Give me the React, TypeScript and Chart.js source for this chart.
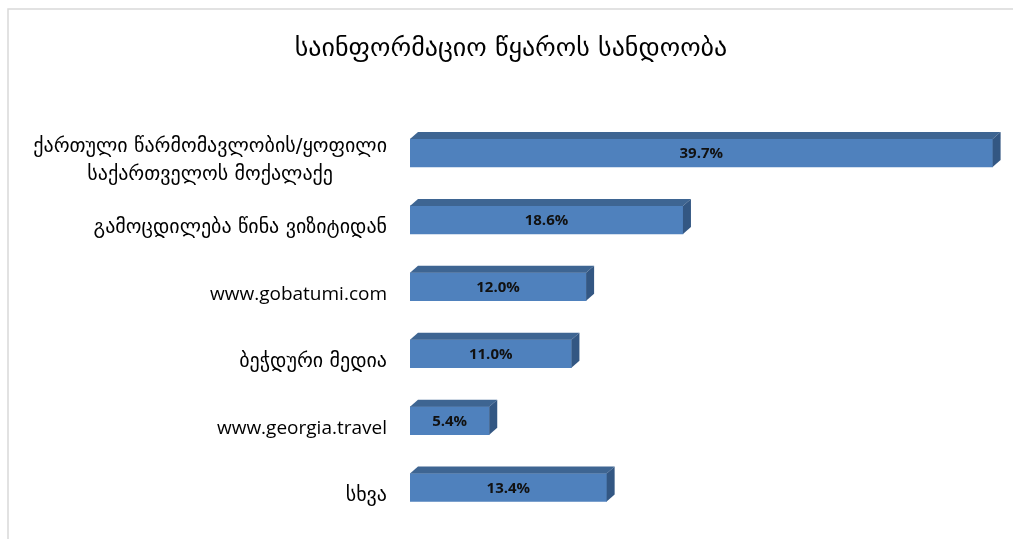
import React, { useEffect, useRef } from "react";
import { Chart, registerables } from "chart.js";

Chart.register(...registerables);

const chartTitle = "საინფორმაციო წყაროს სანდოობა";
const categories: string[][] = [
  ["ქართული წარმომავლობის/ყოფილი", "საქართველოს მოქალაქე"],
  ["გამოცდილება წინა ვიზიტიდან"],
  ["www.gobatumi.com"],
  ["ბეჭდური მედია"],
  ["www.georgia.travel"],
  ["სხვა"],
];
const values = [39.7, 18.6, 12.0, 11.0, 5.4, 13.4];
const valueLabels = ["39.7%", "18.6%", "12.0%", "11.0%", "5.4%", "13.4%"];

const FRONT = "#4F81BD";
const TOP = "#3E6592";
const SIDE = "#335783";
const LATIN_FONT = "19px 'Open Sans', 'DejaVu Sans', sans-serif";
const GEORGIAN_FONT = "20px 'DejaVu Sans', sans-serif";
const TITLE_FONT = "26px 'DejaVu Sans', sans-serif";
const VALUE_FONT = "bold 15px 'Open Sans', 'DejaVu Sans', sans-serif";

const isGeorgian = (s: string) => /[\u10A0-\u10FF]/.test(s);

const decorPlugin = {
  id: "decor",
  beforeDraw(chart: any) {
    const { ctx, width, height } = chart;
    ctx.save();
    ctx.fillStyle = "#ffffff";
    ctx.fillRect(0, 0, width, height);
    ctx.strokeStyle = "#d9d9d9";
    ctx.lineWidth = 1.5;
    ctx.beginPath();
    ctx.moveTo(8, height);
    ctx.lineTo(8, 9);
    ctx.lineTo(1013, 9);
    ctx.stroke();
    ctx.fillStyle = "#000000";
    ctx.font = TITLE_FONT;
    ctx.textAlign = "center";
    ctx.textBaseline = "middle";
    ctx.fillText(chartTitle, 511, 49);
    ctx.restore();
  },
  afterDatasetsDraw(chart: any) {
    const { ctx, chartArea } = chart;
    const meta = chart.getDatasetMeta(0);
    const yScale = chart.scales.y;
    const dx = 8;
    const dy = 7;
    ctx.save();
    meta.data.forEach((el: any, i: number) => {
      const { x, y, base, height } = el.getProps(["x", "y", "base", "height"], true);
      const top = y - height / 2;
      const bottom = y + height / 2;
      ctx.fillStyle = TOP;
      ctx.beginPath();
      ctx.moveTo(base, top);
      ctx.lineTo(base + dx, top - dy);
      ctx.lineTo(x + dx, top - dy);
      ctx.lineTo(x, top);
      ctx.closePath();
      ctx.fill();
      ctx.fillStyle = SIDE;
      ctx.beginPath();
      ctx.moveTo(x, top);
      ctx.lineTo(x + dx, top - dy);
      ctx.lineTo(x + dx, bottom - dy);
      ctx.lineTo(x, bottom);
      ctx.closePath();
      ctx.fill();
      ctx.fillStyle = "#111111";
      ctx.font = VALUE_FONT;
      ctx.textAlign = "center";
      ctx.textBaseline = "middle";
      ctx.fillText(valueLabels[i], (base + x) / 2, y + 1);
    });
    ctx.fillStyle = "#000000";
    ctx.textBaseline = "middle";
    ctx.textAlign = "center";
    const rightX = chartArea.left - 23;
    categories.forEach((lines, i) => {
      ctx.font = isGeorgian(lines[0]) ? GEORGIAN_FONT : LATIN_FONT;
      const yc = yScale.getPixelForValue(i) + 8;
      const widest = Math.max(...lines.map((l) => ctx.measureText(l).width));
      const cx = rightX - widest / 2;
      const lh = 28;
      lines.forEach((line, j) => {
        ctx.fillText(line, cx, yc + (j - (lines.length - 1) / 2) * lh);
      });
    });
    ctx.restore();
  },
};

export default function App() {
  const ref = useRef<HTMLCanvasElement | null>(null);
  useEffect(() => {
    if (!ref.current) return;
    const chart = new Chart(ref.current, {
      type: "bar",
      data: {
        labels: categories.map((c) => c.join(" ")),
        datasets: [
          {
            data: values,
            backgroundColor: FRONT,
            borderWidth: 0,
            barThickness: 28,
          },
        ],
      },
      options: {
        indexAxis: "y",
        responsive: false,
        animation: false,
        layout: { padding: { left: 410, right: 18, top: 119.5, bottom: 18 } },
        plugins: {
          legend: { display: false },
          title: { display: false },
          tooltip: { enabled: false },
        },
        scales: {
          x: { min: 0, max: 40, display: false },
          y: { display: false },
        },
      },
      plugins: [decorPlugin],
    } as any);
    return () => chart.destroy();
  }, []);
  return (
    <div style={{ position: "fixed", left: 0, top: 0, width: 1015, height: 539 }}>
      <canvas ref={ref} width={1015} height={539} />
    </div>
  );
}
